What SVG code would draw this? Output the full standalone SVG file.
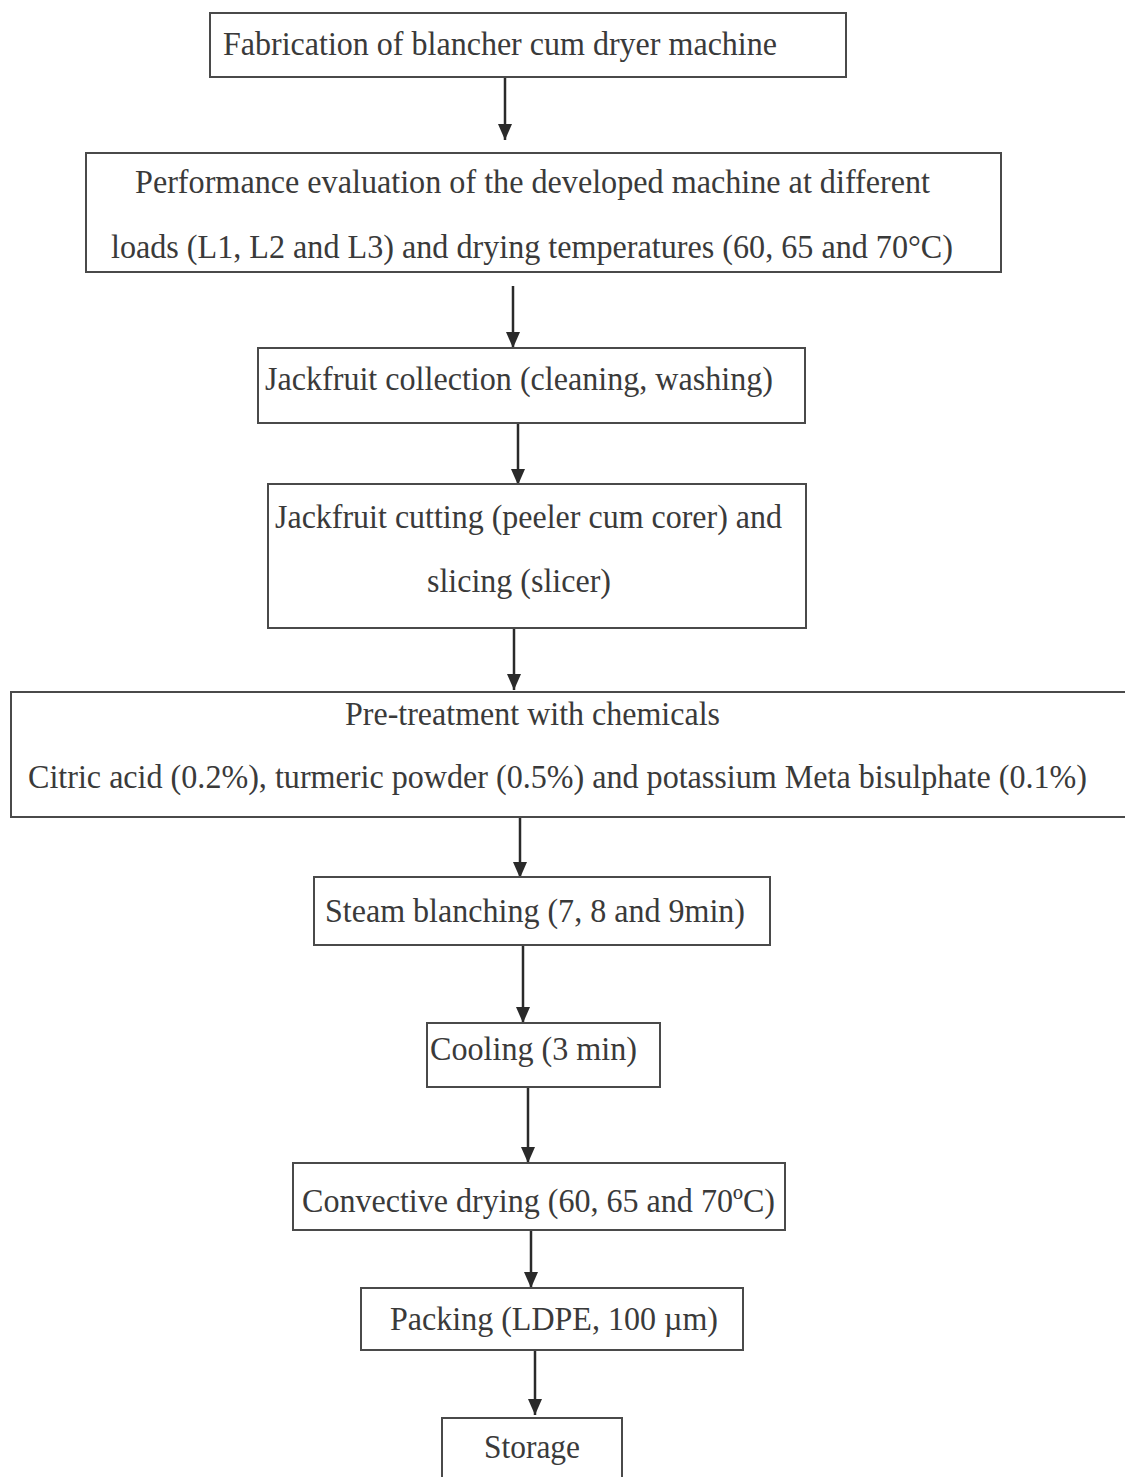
<svg xmlns="http://www.w3.org/2000/svg" width="1125" height="1477" viewBox="0 0 1125 1477">
<style>
.box{fill:none;stroke:#4a4a4a;stroke-width:2}
.t{font-family:"Liberation Serif","Times New Roman",Times,serif;font-size:33px;fill:#3a3a3a}
.c{stroke:#2a2a2a;stroke-width:2.5;fill:none}
</style>
<defs>
<marker id="arr" markerUnits="userSpaceOnUse" markerWidth="16" markerHeight="14" refX="16" refY="7" orient="auto" viewBox="0 0 16 14">
<path d="M0,0 L16,7 L0,14 Z" fill="#2a2a2a"/>
</marker>
</defs>
<rect width="1125" height="1477" fill="#ffffff"/>
<g id="connectors">
<line class="c" x1="505" y1="77" x2="505" y2="140" marker-end="url(#arr)"/>
<line class="c" x1="513" y1="286" x2="513" y2="348" marker-end="url(#arr)"/>
<line class="c" x1="518" y1="424" x2="518" y2="485" marker-end="url(#arr)"/>
<line class="c" x1="514" y1="628" x2="514" y2="690" marker-end="url(#arr)"/>
<line class="c" x1="520" y1="817" x2="520" y2="878" marker-end="url(#arr)"/>
<line class="c" x1="523" y1="945" x2="523" y2="1023" marker-end="url(#arr)"/>
<line class="c" x1="528" y1="1087" x2="528" y2="1163" marker-end="url(#arr)"/>
<line class="c" x1="531" y1="1230" x2="531" y2="1288" marker-end="url(#arr)"/>
<line class="c" x1="535" y1="1350" x2="535" y2="1415" marker-end="url(#arr)"/>
</g>
<g id="n1">
<rect class="box" x="210" y="13" width="636" height="64"/>
<text class="t" x="223" y="55" textLength="554" lengthAdjust="spacingAndGlyphs">Fabrication of blancher cum dryer machine</text>
</g>
<g id="n2">
<rect class="box" x="86" y="153" width="915" height="119"/>
<text class="t" x="135" y="193" textLength="795" lengthAdjust="spacingAndGlyphs">Performance evaluation of the developed machine at different</text>
<text class="t" x="111" y="258" textLength="842" lengthAdjust="spacingAndGlyphs">loads (L1, L2 and L3) and drying temperatures (60, 65 and 70°C)</text>
</g>
<g id="n3">
<rect class="box" x="258" y="348" width="547" height="75"/>
<text class="t" x="265" y="390" textLength="508" lengthAdjust="spacingAndGlyphs">Jackfruit collection (cleaning, washing)</text>
</g>
<g id="n4">
<rect class="box" x="268" y="484" width="538" height="144"/>
<text class="t" x="275" y="528" textLength="507" lengthAdjust="spacingAndGlyphs">Jackfruit cutting (peeler cum corer) and</text>
<text class="t" x="427" y="592" textLength="184" lengthAdjust="spacingAndGlyphs">slicing (slicer)</text>
</g>
<g id="n5">
<rect class="box" x="11" y="692" width="1124" height="125"/>
<text class="t" x="345" y="725" textLength="375" lengthAdjust="spacingAndGlyphs">Pre-treatment with chemicals</text>
<text class="t" x="28" y="788" textLength="1059" lengthAdjust="spacingAndGlyphs">Citric acid (0.2%), turmeric powder (0.5%) and potassium Meta bisulphate (0.1%)</text>
</g>
<g id="n6">
<rect class="box" x="314" y="877" width="456" height="68"/>
<text class="t" x="325" y="922" textLength="420" lengthAdjust="spacingAndGlyphs">Steam blanching (7, 8 and 9min)</text>
</g>
<g id="n7">
<rect class="box" x="427" y="1023" width="233" height="64"/>
<text class="t" x="430" y="1060" textLength="207" lengthAdjust="spacingAndGlyphs">Cooling (3 min)</text>
</g>
<g id="n8">
<rect class="box" x="293" y="1163" width="492" height="67"/>
<text class="t" x="302" y="1212" textLength="473" lengthAdjust="spacingAndGlyphs">Convective drying (60, 65 and 70ºC)</text>
</g>
<g id="n9">
<rect class="box" x="361" y="1288" width="382" height="62"/>
<text class="t" x="390" y="1330" textLength="328" lengthAdjust="spacingAndGlyphs">Packing (LDPE, 100 µm)</text>
</g>
<g id="n10">
<rect class="box" x="442" y="1418" width="180" height="70"/>
<text class="t" x="484" y="1458" textLength="96" lengthAdjust="spacingAndGlyphs">Storage</text>
</g>
</svg>
